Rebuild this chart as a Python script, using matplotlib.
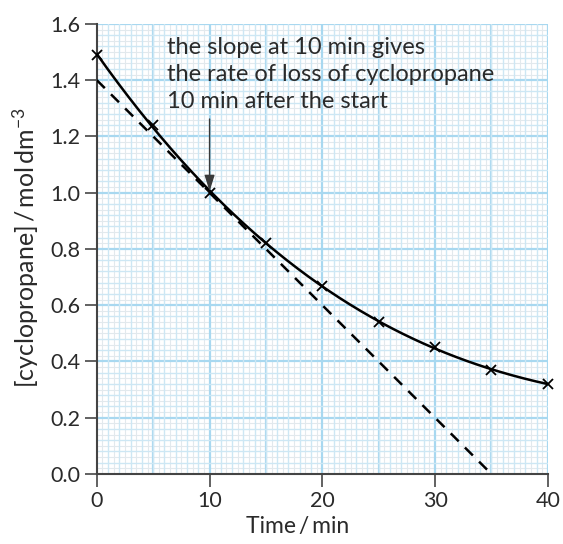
import numpy as np
import matplotlib
matplotlib.use("Agg")
import matplotlib.pyplot as plt
from matplotlib.ticker import MultipleLocator

# Concentration of cyclopropane measured over time
time_min = [0, 5, 10, 15, 20, 25, 30, 35, 40]
conc = [1.49, 1.24, 1.00, 0.82, 0.67, 0.54, 0.45, 0.37, 0.32]

# Tangent drawn at t = 10 min
tangent_t = [0, 35]
tangent_c = [1.40, 0.0]

x_ticks = [0, 10, 20, 30, 40]
y_ticks = [0.0, 0.2, 0.4, 0.6, 0.8, 1.0, 1.2, 1.4, 1.6]

note = ("the slope at 10 min gives\n"
        "the rate of loss of cyclopropane\n"
        "10 min after the start")

plt.rcParams['font.family'] = ['Lato', 'DejaVu Sans']
plt.rcParams['mathtext.fontset'] = 'custom'
plt.rcParams['mathtext.rm'] = 'Lato'
plt.rcParams['mathtext.it'] = 'Lato:italic'

ink = '#2a2a2a'
major_blue = '#a8d8f0'
minor_blue = '#cde7f4'
faint = '#e2e9ed'

fig = plt.figure(figsize=(5.63, 5.44), dpi=100)
ax = fig.add_axes([0.172, 0.1287, 0.801, 0.8273])
ax.set_xlim(0, 40)
ax.set_ylim(0, 1.6)

# graph-paper grid
for t in np.arange(0.5, 40, 1.0):
    ax.axvline(t, color=faint, lw=0.8, zorder=0)
for c in np.arange(0.02, 1.6, 0.04):
    ax.axhline(c, color=faint, lw=0.8, zorder=0)
ax.xaxis.set_minor_locator(MultipleLocator(1))
ax.yaxis.set_minor_locator(MultipleLocator(0.04))
ax.grid(which='minor', color=minor_blue, lw=1.0, zorder=0)
for t in np.arange(5, 41, 5):
    ax.axvline(t, color=major_blue, lw=1.6, zorder=0.5)
for c in np.arange(0.2, 1.61, 0.2):
    ax.axhline(c, color=major_blue, lw=1.6, zorder=0.5)
ax.set_axisbelow(True)

# smooth curve through the measurements
coef = np.polyfit(time_min, conc, 3)
tt = np.linspace(0, 40, 300)
ax.plot(tt, np.polyval(coef, tt), color='black', lw=1.8, zorder=3)
ax.plot(time_min, conc, linestyle='none', marker='x', ms=7, mew=1.3,
        color='black', zorder=4, clip_on=False)
ax.plot(tangent_t, tangent_c, color='black', lw=1.8, dashes=(4.5, 3.5), zorder=3)

# annotation
ax.text(6.2, 1.553, note, fontsize=17, color=ink, va='top', ha='left',
        linespacing=1.36, zorder=5)
ax.annotate('', xy=(10, 1.005), xytext=(10, 1.262),
            arrowprops=dict(arrowstyle='-|>,head_width=0.22,head_length=0.7',
                            color='#3a3a3a', lw=1.0,
                            mutation_scale=14, shrinkA=0, shrinkB=0),
            zorder=5)

ax.set_xticks(x_ticks)
ax.set_yticks(y_ticks)
ax.set_yticklabels([f'{v:.1f}' for v in y_ticks])
ax.tick_params(which='major', direction='out', length=9, width=1.3,
               color='#555555', labelsize=15.5, labelcolor=ink, pad=3)
ax.tick_params(which='minor', length=0)
for s in ('top', 'right'):
    ax.spines[s].set_visible(False)
for s in ('left', 'bottom'):
    ax.spines[s].set_color('#444444')
    ax.spines[s].set_linewidth(1.5)

fig.text(0.529, 0.032, 'Time\u2009/\u2009min', fontsize=16.5, color=ink,
         ha='center', va='center')
fig.text(0.045, 0.545, r'[cyclopropane]$\,$/$\,$mol$\,$dm$^{-3}$', fontsize=18,
         color=ink, rotation=90, ha='center', va='center')

fig.savefig('out.png', dpi=100)
